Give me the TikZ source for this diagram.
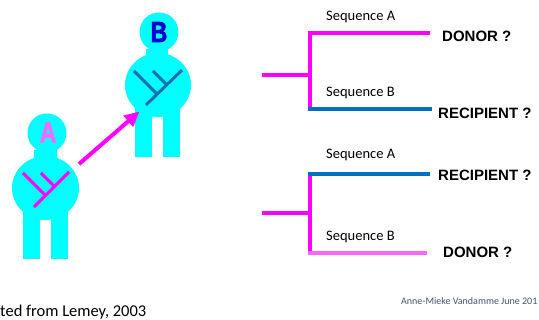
\documentclass[tikz,border=0pt]{standalone}
\usepackage{fontspec}
\setmainfont{Liberation Sans}
\newfontfamily\calib{Carlito}
\newfontfamily\heavyfont[FakeBold=2]{Liberation Sans Bold}
\usetikzlibrary{arrows.meta,shapes.geometric}

\definecolor{skin}{RGB}{0,255,255}
\definecolor{mag}{RGB}{255,0,255}
\definecolor{pinkline}{RGB}{255,102,255}
\definecolor{seqblue}{RGB}{0,112,192}
\definecolor{treeblue}{RGB}{30,110,180}
\definecolor{letterB}{RGB}{0,0,210}
\definecolor{footgray}{RGB}{68,84,106}

\tikzset{
  part/.style={fill=skin, draw=none},
  letter/.style={font=\heavyfont\fontsize{29}{29}\selectfont, inner sep=0pt, xscale=0.8},
  seqlabel/.style={font=\calib\fontsize{14.5}{15}\selectfont, anchor=west, inner sep=0pt},
  rolelabel/.style={font=\bfseries\fontsize{15}{16}\selectfont, anchor=west, inner sep=0pt},
  magbranch/.style={draw=mag, line width=3.4pt},
  bluebranch/.style={draw=seqblue, line width=4.6pt},
  pinkbranch/.style={draw=pinkline, line width=3.6pt},
  innertree/.style={line width=3pt},
}

\begin{document}
\begin{tikzpicture}[x=1pt, y=-1pt]
\useasboundingbox (0,0) rectangle (539,320);

% ---- person A ----
\fill[part] (23,200) rectangle (40,259);
\fill[part] (51,200) rectangle (68,259);
\fill[part] (34,150) rectangle (57,160);
\node[part, ellipse, minimum width=67pt, minimum height=64pt, inner sep=0pt] (bodyA) at (45.5,188) {};
\node[part, circle, minimum size=39pt, inner sep=0pt] (headA) at (47,133) {};
\node[letter, text=pinkline] (labA) at (48,132.5) {A};
\draw[innertree, draw=mag] (34,207) -- (69,172);
\draw[innertree, draw=mag] (23,173) -- (45.5,195.5);
\draw[innertree, draw=mag] (41,173) -- (54.5,186.5);

% ---- person B ----
\fill[part] (135,100) rectangle (152,157);
\fill[part] (163,100) rectangle (180,157);
\fill[part] (146,49) rectangle (168,58);
\node[part, ellipse, minimum width=66pt, minimum height=64pt, inner sep=0pt] (bodyB) at (158,85) {};
\node[part, circle, minimum size=39pt, inner sep=0pt] (headB) at (159,32) {};
\node[letter, text=letterB] (labB) at (159,32) {B};
\draw[innertree, draw=treeblue] (146,105) -- (182,70);
\draw[innertree, draw=treeblue] (134,71) -- (157,94);
\draw[innertree, draw=treeblue] (153,71) -- (166.5,84.5);

% ---- transmission arrow ----
\coordinate (arrS) at (79,164);
\coordinate (arrE) at (139.5,111.5);
\draw[mag, line width=4pt, -{Triangle[length=15pt, width=14pt]}] (arrS) -- (arrE);

% ---- first tree ----
\coordinate (r1) at (262,75);
\coordinate (j1) at (310,75);
\coordinate (t1) at (310,33);
\coordinate (b1) at (310,109);
\coordinate (t1e) at (430,33);
\coordinate (b1e) at (432,109);
\draw[magbranch] (r1) -- (j1);
\draw[magbranch] ([yshift=-1.7pt]t1) -- ([yshift=2pt]b1);
\draw[magbranch] ([xshift=-1.7pt]t1) -- (t1e);
\draw[bluebranch] ([xshift=-1.7pt]b1) -- (b1e);
\node[seqlabel] (s1a) at (326,17) {Sequence A};
\node[seqlabel] (s1b) at (326,93) {Sequence B};
\node[rolelabel] (d1) at (442,36) {DONOR ?};
\node[rolelabel] (rc1) at (438,113) {RECIPIENT ?};

% ---- second tree ----
\coordinate (r2) at (262,213);
\coordinate (j2) at (310,213);
\coordinate (t2) at (310,174);
\coordinate (b2) at (310,253);
\coordinate (t2e) at (430,174);
\coordinate (b2e) at (427,253);
\draw[magbranch] (r2) -- (j2);
\draw[magbranch] ([yshift=-2pt]t2) -- ([yshift=1.7pt]b2);
\draw[bluebranch] ([xshift=-1.7pt]t2) -- (t2e);
\draw[pinkbranch] ([xshift=-1.7pt]b2) -- (b2e);
\node[seqlabel] (s2a) at (326,155) {Sequence A};
\node[seqlabel] (s2b) at (326,237) {Sequence B};
\node[rolelabel] (rc2) at (438,175) {RECIPIENT ?};
\node[rolelabel] (d2) at (443,252) {DONOR ?};

% ---- footer ----
\node[font=\calib\fontsize{16.5}{17}\selectfont, anchor=base west, inner sep=0pt] (src) at (0,317) {ted from Lemey, 2003};
\node[font=\calib\fontsize{10}{11}\selectfont, text=footgray, anchor=west, inner sep=0pt] (auth) at (401,301) {Anne-Mieke Vandamme June 201};
\end{tikzpicture}
\end{document}
